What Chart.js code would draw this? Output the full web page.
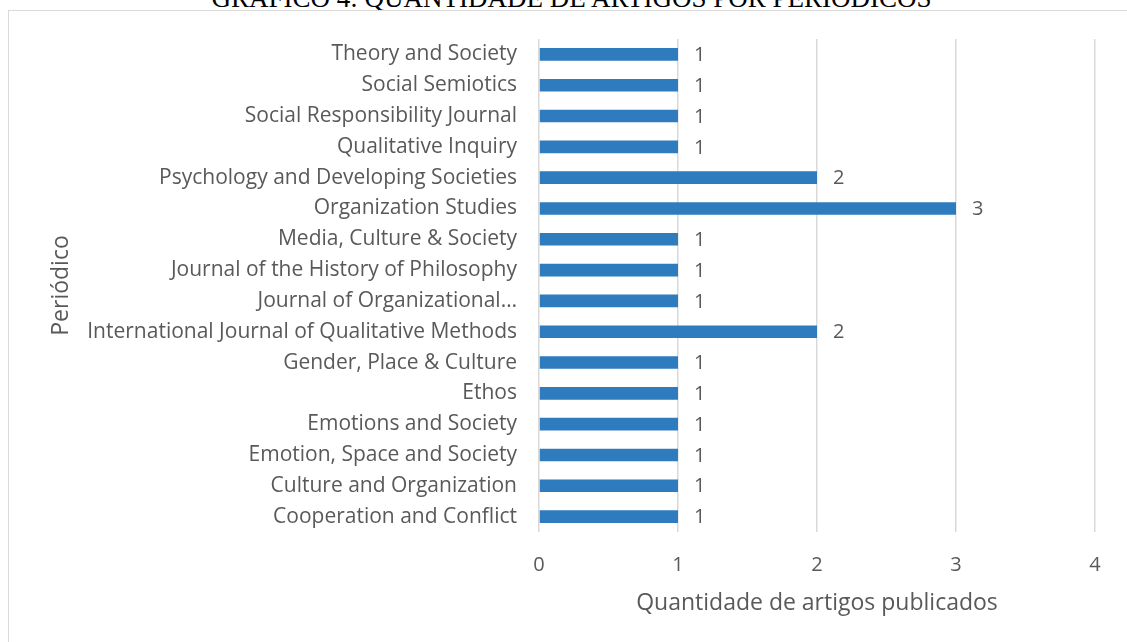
<!DOCTYPE html>
<html>
<head>
<meta charset="utf-8">
<script src="https://cdn.jsdelivr.net/npm/chart.js@4.4.1/dist/chart.umd.min.js"></script>
<style>
  html, body { margin: 0; padding: 0; background: #ffffff; overflow: hidden; }
  #wrap { position: relative; width: 1127px; height: 642px; overflow: hidden; }
  #title { position: absolute; left: 0; width: 1143px; top: -17px; text-align: center;
           font-family: "Liberation Serif", "Times New Roman", serif; font-size: 27px; color: #000; white-space: nowrap; }
  #frame { position: absolute; left: 8px; top: 10px; width: 1200px; height: 700px; border: 1px solid #d9d9d9; box-sizing: border-box; }
  #c { position: absolute; left: 0; top: 0; }
</style>
</head>
<body>
<div id="wrap">
  <div id="title">GRÁFICO 4: QUANTIDADE DE ARTIGOS POR PERIÓDICOS</div>
  <div id="frame"></div>
  <canvas id="c" width="1127" height="642"></canvas>
</div>
<script>
const categories = [
  "Theory and Society",
  "Social Semiotics",
  "Social Responsibility Journal",
  "Qualitative Inquiry",
  "Psychology and Developing Societies",
  "Organization Studies",
  "Media, Culture & Society",
  "Journal of the History of Philosophy",
  "Journal of Organizational…",
  "International Journal of Qualitative Methods",
  "Gender, Place & Culture",
  "Ethos",
  "Emotions and Society",
  "Emotion, Space and Society",
  "Culture and Organization",
  "Cooperation and Conflict"
];
const articleCounts = [1, 1, 1, 1, 2, 3, 1, 1, 1, 2, 1, 1, 1, 1, 1, 1];
const xTicks = [0, 1, 2, 3, 4];
const xTitle = "Quantidade de artigos publicados";
const yTitle = "Periódico";

const FONT = '"Open Sans", "Noto Sans", sans-serif';
const GREY = '#595959';

const valueLabels = {
  id: 'valueLabels',
  afterDatasetsDraw(chart) {
    const ctx = chart.ctx;
    const meta = chart.getDatasetMeta(0);
    ctx.save();
    ctx.font = '20px ' + FONT;
    ctx.fillStyle = GREY;
    ctx.textAlign = 'left';
    ctx.textBaseline = 'middle';
    meta.data.forEach((bar, i) => {
      ctx.fillText(String(articleCounts[i]), bar.x + 16, bar.y + 1);
    });
    ctx.restore();
  }
};

new Chart(document.getElementById('c'), {
  type: 'bar',
  data: {
    labels: categories,
    datasets: [{
      data: articleCounts,
      backgroundColor: '#2E7BBE',
      borderWidth: 0,
      categoryPercentage: 1,
      barPercentage: 0.41
    }]
  },
  options: {
    indexAxis: 'y',
    responsive: false,
    animation: false,
    layout: { padding: { top: 39, right: 32, left: 0, bottom: 0 } },
    plugins: { legend: { display: false }, tooltip: { enabled: false }, title: { display: false } },
    scales: {
      x: {
        min: 0, max: 4,
        afterBuildTicks(scale) { scale.ticks = xTicks.map(v => ({ value: v })); },
        afterFit(scale) { scale.height = 110; },
        grid: { color: '#d9d9d9', lineWidth: 1.5, drawTicks: false },
        border: { display: false },
        ticks: { padding: 21, color: GREY, font: { family: FONT, size: 20 } },
        title: { display: true, text: xTitle, color: GREY, font: { family: FONT, size: 23 }, padding: { top: 0, bottom: 25 } }
      },
      y: {
        afterFit(scale) { scale.width = 539; },
        grid: { display: false, drawTicks: false },
        border: { display: false },
        ticks: { padding: 22, color: GREY, autoSkip: false, font: { family: FONT, size: 21 } },
        title: { display: true, text: yTitle, color: GREY, font: { family: FONT, size: 23 }, padding: { top: 48, bottom: 0 } }
      }
    }
  },
  plugins: [valueLabels]
});
</script>
</body>
</html>
